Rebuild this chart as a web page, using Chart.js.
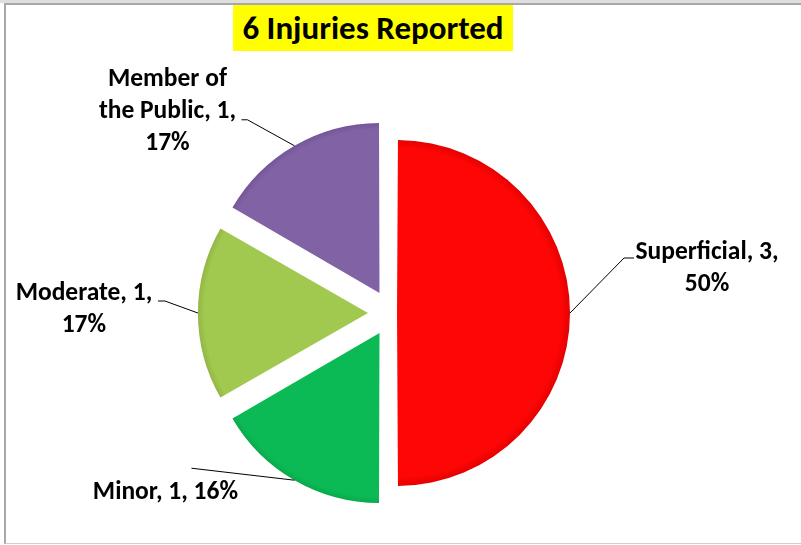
<!DOCTYPE html>
<html>
<head>
<meta charset="utf-8">
<title>6 Injuries Reported</title>
<script src="https://cdn.jsdelivr.net/npm/chart.js@4/dist/chart.umd.min.js"></script>
<style>
  html, body { margin: 0; padding: 0; background: #fff; }
  body { width: 801px; height: 545px; position: relative; overflow: hidden; }
  #topstrip { position: absolute; left: 0; top: 0; width: 801px; height: 3px; background: #dedede; }
  #frame {
    position: absolute; left: 4px; top: 3px; width: 820px; height: 538px;
    border-top: 2px solid #a8a8a8; border-left: 2px solid #a8a8a8; border-bottom: 1px solid #cfcfcf;
  }
  #wrap { position: absolute; left: 0; top: 0; width: 801px; height: 545px; }
  #title {
    position: absolute; left: 233px; top: 5px; width: 280px; height: 46px;
    background: #ffff00; color: #000; text-align: center; white-space: nowrap;
    font: bold 33px Carlito, Calibri, Lato, sans-serif; line-height: 46px;
  }
</style>
</head>
<body>
<div id="topstrip"></div>
<div id="frame"></div>
<div id="wrap"><canvas id="chart"></canvas></div>
<div id="title">6 Injuries Reported</div>
<script>
// pie data, clockwise from 12 o'clock
var categories = ['Superficial', 'Minor', 'Moderate', 'Member of the Public'];
var injuries = [3, 1, 1, 1];
var percentLabels = ['50%', '16%', '17%', '17%'];

var sliceColors = ['#ff0606', '#0bba55', '#a1c84f', '#8062a5'];
var rimColors = ['#dc0000', '#089a45', '#86a63c', '#684c8c'];
var explode = [24, 92, 92, 92];

var labelFont = 'bold 25.5px Carlito, Calibri, Lato, sans-serif';

// leader elbow / text block offsets from each slice's rim midpoint
var labelPlacement = [
  { elbow: [54, -55], tick: 10, text: [137, -44] },
  { elbow: [-103, -12], tick: 0, text: [-129, 12] },
  { elbow: [-33, -12], tick: -7, text: [-114, -3] },
  { elbow: [-47, -26], tick: -6, text: [-127, -34] }
];

function wrapText(ctx, str, maxWidth) {
  var words = str.split(' ');
  var lines = [];
  var cur = '';
  words.forEach(function (w) {
    var test = cur ? cur + ' ' + w : w;
    if (cur && ctx.measureText(test).width > maxWidth) {
      lines.push(cur);
      cur = w;
    } else {
      cur = test;
    }
  });
  if (cur) lines.push(cur);
  return lines;
}

var pieLabels = {
  id: 'pieLabels',
  afterDatasetsDraw: function (chart) {
    var ctx = chart.ctx;
    var meta = chart.getDatasetMeta(0);
    ctx.save();
    ctx.font = labelFont;
    meta.data.forEach(function (arc, i) {
      var p = arc.getProps(['x', 'y', 'startAngle', 'endAngle', 'outerRadius']);
      var mid = (p.startAngle + p.endAngle) / 2;
      var o = (arc.options.offset || 0) / 4;
      var fix = 1 - Math.sin(Math.min(Math.PI, p.endAngle - p.startAngle));
      var r = p.outerRadius + o * fix + o;
      var mx = p.x + Math.cos(mid) * r;
      var my = p.y + Math.sin(mid) * r;
      var pl = labelPlacement[i];
      var ex = mx + pl.elbow[0], ey = my + pl.elbow[1];

      ctx.strokeStyle = '#000';
      ctx.lineWidth = 1;
      ctx.beginPath();
      ctx.moveTo(mx, my);
      ctx.lineTo(ex, ey);
      if (pl.tick) ctx.lineTo(ex + pl.tick, ey);
      ctx.stroke();

      var text = categories[i] + ', ' + injuries[i] + ', ' + percentLabels[i];
      var lines = wrapText(ctx, text, 153);
      var lh = 32;
      var cx = mx + pl.text[0], cy = my + pl.text[1];
      ctx.fillStyle = '#000';
      ctx.textAlign = 'center';
      ctx.textBaseline = 'middle';
      lines.forEach(function (ln, k) {
        ctx.fillText(ln, cx, cy + (k - (lines.length - 1) / 2) * lh);
      });
    });
    ctx.restore();
  }
};

function sliceFill(c) {
  var i = c.dataIndex;
  var chart = c.chart;
  var area = chart.chartArea;
  if (!area) return sliceColors[i];
  var cx = (area.left + area.right) / 2;
  var cy = (area.top + area.bottom) / 2;
  var g = chart.ctx.createRadialGradient(cx, cy, 0, cx, cy, 176);
  g.addColorStop(0, sliceColors[i]);
  g.addColorStop(0.93, sliceColors[i]);
  g.addColorStop(1, rimColors[i]);
  return g;
}

new Chart(document.getElementById('chart'), {
  type: 'pie',
  data: {
    labels: categories,
    datasets: [{
      data: injuries,
      backgroundColor: sliceFill,
      borderWidth: 0,
      offset: explode,
      radius: 167
    }]
  },
  options: {
    responsive: true,
    maintainAspectRatio: false,
    animation: false,
    events: [],
    layout: { padding: { left: 0, right: 19, top: 81, bottom: 0 } },
    plugins: {
      legend: { display: false },
      tooltip: { enabled: false },
      title: { display: false }
    }
  },
  plugins: [pieLabels]
});
</script>
</body>
</html>
